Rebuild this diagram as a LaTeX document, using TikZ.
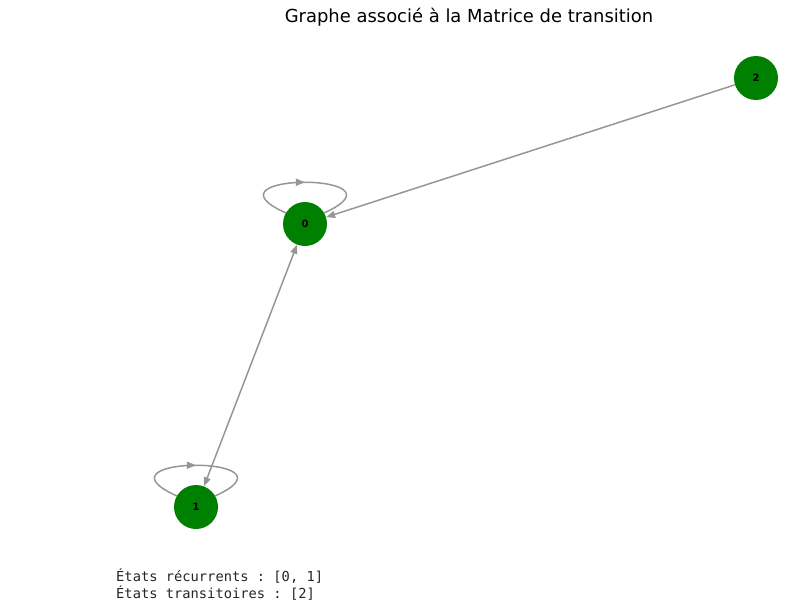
\documentclass[tikz,border=0pt]{standalone}
\usepackage{fontspec}
\setmainfont{DejaVu Sans}
\setmonofont{DejaVu Sans Mono}
\usetikzlibrary{arrows.meta,decorations.markings}
\definecolor{nodegreen}{RGB}{0,128,0}
\definecolor{edgegray}{RGB}{150,150,150}
\tikzset{
  state/.style={circle,fill=nodegreen,draw=none,minimum size=44bp,inner sep=0pt,font=\fontsize{10}{11}\selectfont\bfseries},
  tip/.tip={Triangle[length=9bp,width=7bp]},
  edge/.style={edgegray,line width=1.5bp,-tip},
  selfloop/.style={edgegray,line width=1.5bp,decoration={markings,mark=at position 0.5 with {\arrow{tip}}},postaction={decorate}},
}
\begin{document}
\begin{tikzpicture}[>=latex,line join=bevel,]
\useasboundingbox (0bp,0bp) rectangle (800bp,-614bp);
%%
\node (title) at (469bp,-17bp) {\fontsize{18}{21}\selectfont Graphe associé à la Matrice de transition};
%
\draw [selfloop] (305bp,-224bp) ++(150:22bp) coordinate (loop_0a) .. controls +(-91bp,41bp) and +(91bp,41bp) .. ++(38bp,0bp) coordinate (loop_0b);
\draw [selfloop] (196bp,-507bp) ++(150:22bp) coordinate (loop_1a) .. controls +(-91bp,41bp) and +(91bp,41bp) .. ++(38bp,0bp) coordinate (loop_1b);
%
\node (node_0) at (305bp,-224bp) [state] {0};
  \node (node_1) at (196bp,-507bp) [state] {1};
  \node (node_2) at (756bp,-78bp) [state] {2};
  \draw [edge,tip-tip] (node_1) -- (node_0);
  \draw [edge] (node_2) -- (node_0);
%
\node (text_rec) at (116bp,-576bp) [anchor=west,inner sep=0pt,black!85] {\fontsize{13.8}{16}\selectfont\ttfamily États récurrents : [0, 1]};
  \node (text_trans) at (116bp,-593bp) [anchor=west,inner sep=0pt,black!85] {\fontsize{13.8}{16}\selectfont\ttfamily États transitoires : [2]};
%
\end{tikzpicture}
\end{document}
